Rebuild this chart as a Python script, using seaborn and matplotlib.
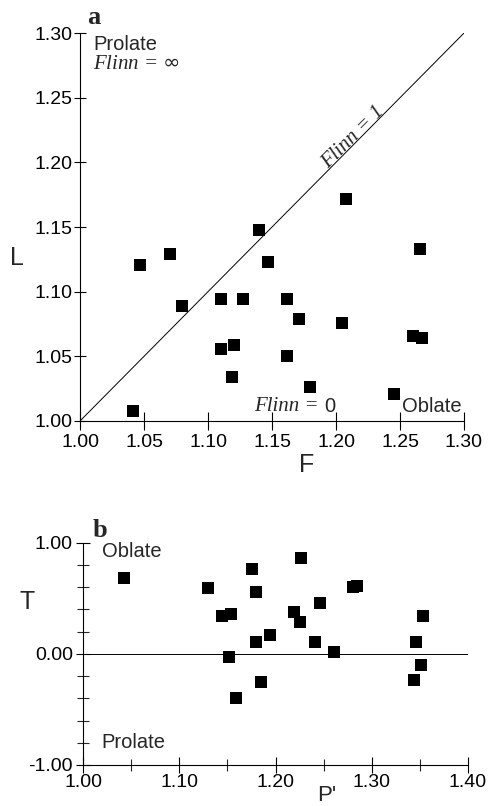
import numpy as np
import matplotlib
matplotlib.use("Agg")
import matplotlib.pyplot as plt
from matplotlib.ticker import MultipleLocator, FormatStrFormatter
import seaborn as sns

# Panel a: Flinn diagram (F vs L)
F = [1.041, 1.047, 1.070, 1.080, 1.110, 1.127, 1.110, 1.120, 1.119, 1.140, 1.147,
     1.162, 1.171, 1.162, 1.180, 1.205, 1.208, 1.245, 1.260, 1.267, 1.266]
L = [1.008, 1.121, 1.129, 1.089, 1.094, 1.094, 1.056, 1.059, 1.034, 1.148, 1.123,
     1.094, 1.079, 1.050, 1.026, 1.076, 1.172, 1.021, 1.066, 1.064, 1.133]

# Panel b: Jelinek plot (P' vs T)
Pj = [1.042, 1.130, 1.144, 1.154, 1.152, 1.159, 1.176, 1.180, 1.227, 1.281, 1.285, 1.246,
      1.219, 1.225, 1.194, 1.180, 1.241, 1.261, 1.185, 1.353, 1.346, 1.351, 1.344]
T = [0.685, 0.589, 0.340, 0.357, -0.027, -0.393, 0.763, 0.553, 0.862, 0.600, 0.612, 0.454,
     0.378, 0.283, 0.168, 0.108, 0.108, 0.012, -0.252, 0.342, 0.108, -0.102, -0.237]

sns.set_style("ticks")
plt.rcParams['font.family'] = ['Liberation Sans', 'DejaVu Sans']
plt.rcParams['axes.unicode_minus'] = False
serif = ['Liberation Serif', 'DejaVu Serif']

fig = plt.figure(figsize=(4.91, 8.06), dpi=100)
ax1 = fig.add_axes([0.163, 0.4777, 0.782, 0.4813])
ax2 = fig.add_axes([0.1697, 0.0509, 0.783, 0.2758])

for ax in (ax1, ax2):
    sns.despine(ax=ax)
    ax.spines['left'].set_linewidth(0.8)
    ax.spines['bottom'].set_linewidth(0.8)
    ax.spines['left'].set_color('black')
    ax.spines['bottom'].set_color('black')
    ax.tick_params(colors='black', labelsize=14, width=0.8)

# ---- panel a
sns.scatterplot(x=F, y=L, ax=ax1, marker='s', color='black', s=70, linewidth=0)
ax1.axline((1.0, 1.0), slope=1, color='black', linewidth=0.7)
ax1.set_xlim(1.0, 1.3)
ax1.set_ylim(1.0, 1.3)
ax1.xaxis.set_major_locator(MultipleLocator(0.05))
ax1.yaxis.set_major_locator(MultipleLocator(0.05))
ax1.xaxis.set_major_formatter(FormatStrFormatter('%.2f'))
ax1.yaxis.set_major_formatter(FormatStrFormatter('%.2f'))
ax1.tick_params(axis='x', direction='inout', length=13, pad=3)
ax1.tick_params(axis='y', direction='inout', length=9, pad=1)

ax1.set_xlabel('F', fontsize=18)
ax1.xaxis.set_label_coords(0.591, -0.113)
ax1.xaxis.label.set_va('center')
ax1.set_ylabel('L', fontsize=18, rotation=0)
ax1.yaxis.set_label_coords(-0.164, 0.42)
ax1.yaxis.label.set_va('center')

ax1.text(1.0102, 1.291, 'Prolate', fontsize=14.5, va='center', ha='left')
ax1.text(1.0102, 1.2754, r'Flinn = $\infty$', fontsize=15, va='center', ha='left',
         family=serif, style='italic')
ax1.text(1.1905, 1.0114, 'Flinn = ', fontsize=15, va='center', ha='right',
         family=serif, style='italic')
ax1.text(1.1905, 1.0114, '0', fontsize=14.5, va='center', ha='left')
ax1.text(1.2513, 1.0114, 'Oblate', fontsize=14.5, va='center', ha='left')
ax1.text(1.2135, 1.2195, 'Flinn = 1', fontsize=15, va='center', ha='center',
         family=serif, style='italic', rotation=45, rotation_mode='anchor')
ax1.text(0.036, 1.039, 'a', transform=ax1.transAxes, fontsize=19, fontweight='bold',
         family=serif, va='center', ha='center')

# ---- panel b
sns.scatterplot(x=Pj, y=T, ax=ax2, marker='s', color='black', s=70, linewidth=0)
ax2.axhline(0, color='black', linewidth=0.7)
ax2.set_xlim(1.0, 1.4)
ax2.set_ylim(-1.0, 1.0)
ax2.xaxis.set_major_locator(MultipleLocator(0.1))
ax2.xaxis.set_minor_locator(MultipleLocator(0.05))
ax2.yaxis.set_major_locator(MultipleLocator(1.0))
ax2.yaxis.set_minor_locator(MultipleLocator(0.2))
ax2.xaxis.set_major_formatter(FormatStrFormatter('%.2f'))
ax2.yaxis.set_major_formatter(FormatStrFormatter('%.2f'))
ax2.tick_params(axis='x', which='major', direction='inout', length=11, pad=1)
ax2.tick_params(axis='x', which='minor', direction='inout', length=8, width=0.8)
ax2.tick_params(axis='y', which='major', direction='inout', length=10, pad=2.5)
ax2.tick_params(axis='y', which='minor', direction='inout', length=8, width=0.8)

ax2.set_xlabel("P'", fontsize=16)
ax2.xaxis.set_label_coords(0.634, -0.136)
ax2.xaxis.label.set_va('center')
ax2.set_ylabel('T', fontsize=18, rotation=0)
ax2.yaxis.set_label_coords(-0.146, 0.733)
ax2.yaxis.label.set_va('center')

ax2.text(1.0191, 0.919, 'Oblate', fontsize=14.5, va='center', ha='left')
ax2.text(1.0191, -0.80, 'Prolate', fontsize=14.5, va='center', ha='left')
ax2.text(0.043, 1.057, 'b', transform=ax2.transAxes, fontsize=19, fontweight='bold',
         family=serif, va='center', ha='center')

fig.savefig('out.png', dpi=100)
